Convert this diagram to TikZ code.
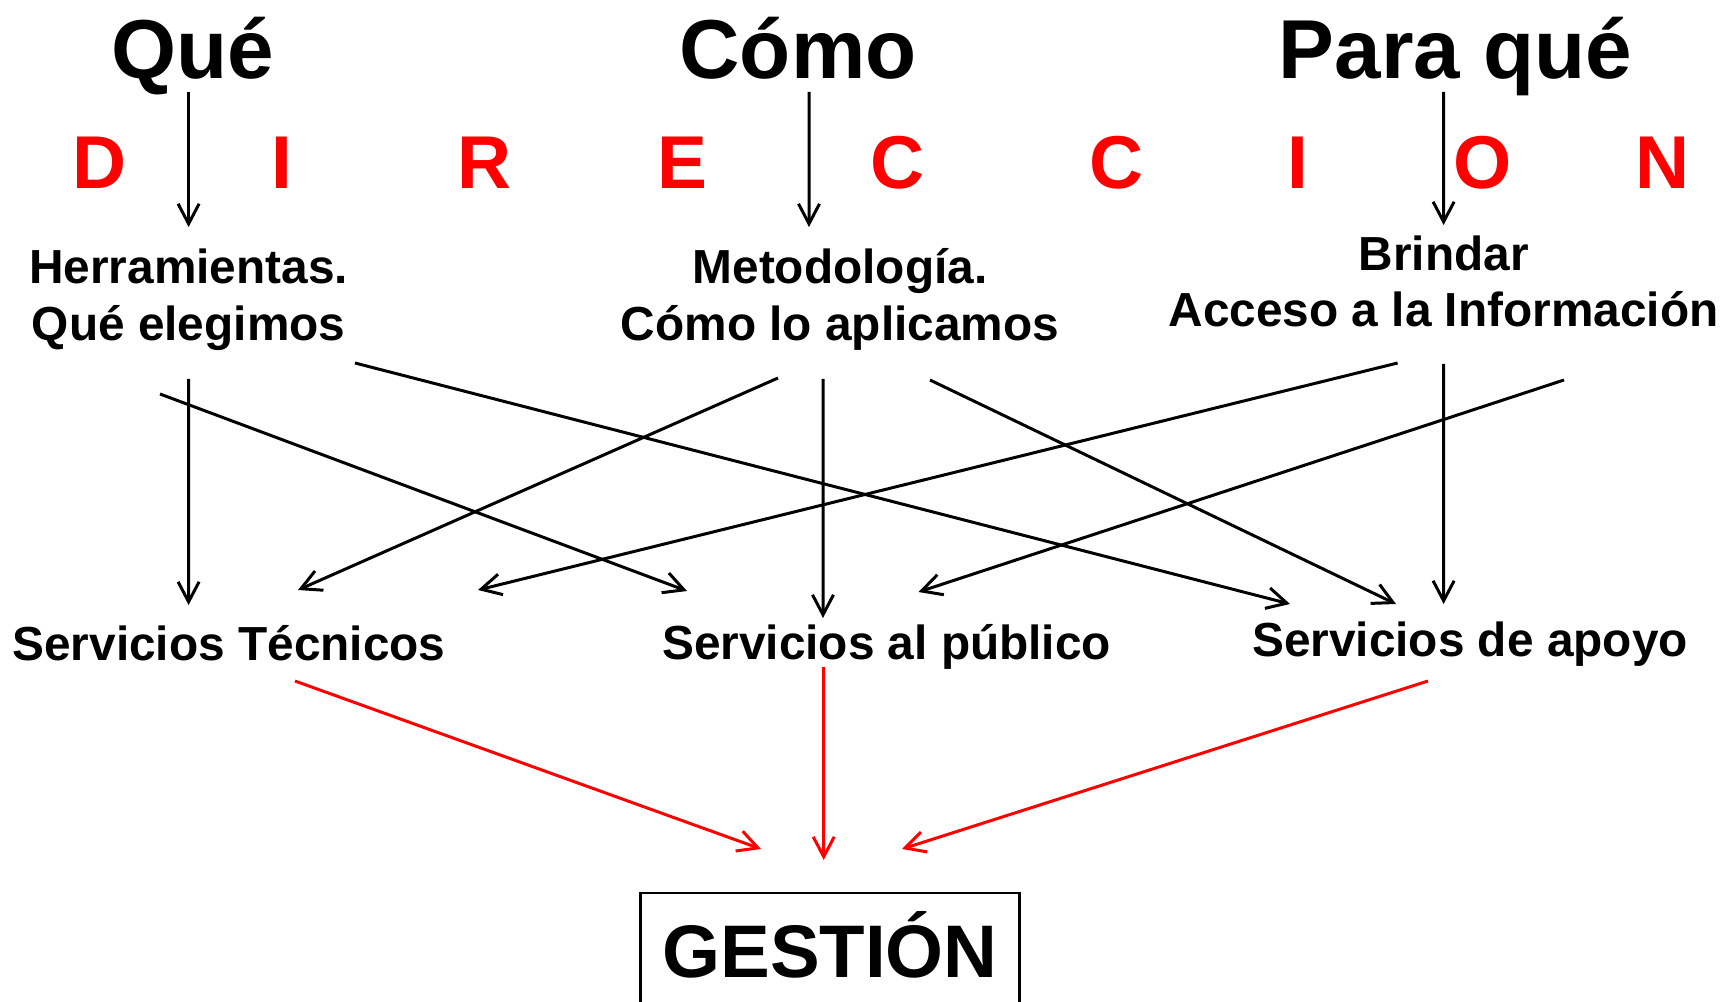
\documentclass[tikz,border=0pt]{standalone}
\usepackage{fontspec}
\setmainfont{Liberation Sans}
\usetikzlibrary{arrows.meta}

\begin{document}
\begin{tikzpicture}[
  font=\bfseries,
  title/.style={inner sep=0pt,anchor=base,font=\bfseries\fontsize{23.8}{28}\selectfont},
  dirletter/.style={inner sep=0pt,anchor=base,text=red,font=\bfseries\fontsize{21.3}{26}\selectfont},
  concept/.style={inner sep=0pt,anchor=base,align=center,font=\bfseries\fontsize{13.6}{16}\selectfont},
  result/.style={draw,line width=0.6pt,anchor=base,minimum width=3.79cm,text height=0.67cm,
                 text depth=0.4cm,inner ysep=0.17cm,font=\bfseries\fontsize{21.2}{25}\selectfont},
  toblk/.style={-{Straight Barb[length=2mm,width=2.1mm]},line width=0.85pt},
  tored/.style={toblk,red}]
  \useasboundingbox (0,0) rectangle (17.29,10.01);

  % Column headings and the spread-out word
  \node[title] (que)     at (1.925,9.22)  {Qué};
  \node[title] (como)    at (7.98,9.22)   {Cómo};
  \node[title] (paraque) at (14.555,9.22) {Para qué};
  \foreach \ltr/\xpos [count=\i] in {D/1.00,I/2.82,R/4.85,E/6.82,C/8.98,C/11.17,I/12.98,O/14.83,N/16.63}
    \node[dirletter] (dir\i) at (\xpos,8.12) {\ltr};

  % base of a two-line node sits on its last line
  \node[concept] (herr)    at (1.886,6.61)  {Herramientas.\\Qué elegimos};
  \node[concept] (metod)   at (8.40,6.61)   {Metodología.\\Cómo lo aplicamos};
  \node[concept] (brindar) at (14.436,6.74) {Brindar\\Acceso a la Información};

  \node[concept] (servtec) at (2.29,3.41)  {Servicios Técnicos};
  \node[concept] (servpub) at (8.866,3.42) {Servicios al público};
  \node[concept] (servapo) at (14.70,3.45) {Servicios de apoyo};

  \node[result] (gestion) at (8.30,0.24) {GESTIÓN};

  % Headings down to their concepts
  \draw[toblk] ([shift={(-0.039,-0.13)}]que.base)     -- ([shift={(0,1.13)}]herr.base);
  \draw[toblk] ([shift={(0.11,-0.13)}]como.base)      -- ([shift={(-0.31,1.13)}]metod.base);
  \draw[toblk] ([shift={(-0.119,-0.13)}]paraque.base) -- ([shift={(0,1.02)}]brindar.base);

  % Every concept feeds every service
  \draw[toblk] ([shift={(0,-0.39)}]herr.base)         -- ([shift={(-0.404,0.55)}]servtec.base);
  \draw[toblk] ([shift={(-0.286,-0.54)}]herr.base)    -- ([shift={(-1.996,0.68)}]servpub.base);
  \draw[toblk] ([shift={(1.664,-0.23)}]herr.base)     -- ([shift={(-1.80,0.52)}]servapo.base);
  \draw[toblk] ([shift={(-0.62,-0.38)}]metod.base)    -- ([shift={(0.69,0.70)}]servtec.base);
  \draw[toblk] ([shift={(-0.17,-0.39)}]metod.base)    -- ([shift={(-0.636,0.41)}]servpub.base);
  \draw[toblk] ([shift={(0.90,-0.40)}]metod.base)     -- ([shift={(-0.74,0.52)}]servapo.base);
  \draw[toblk] ([shift={(-0.46,-0.36)}]brindar.base)  -- ([shift={(2.49,0.70)}]servtec.base);
  \draw[toblk] ([shift={(1.204,-0.53)}]brindar.base)  -- ([shift={(0.319,0.67)}]servpub.base);
  \draw[toblk] ([shift={(0,-0.37)}]brindar.base)      -- ([shift={(-0.264,0.52)}]servapo.base);

  % Services converge on management
  \draw[tored] ([shift={(0.66,-0.21)}]servtec.base)   -- ([shift={(-0.69,1.28)}]gestion.base);
  \draw[tored] ([shift={(-0.629,-0.08)}]servpub.base) -- ([shift={(-0.063,1.17)}]gestion.base);
  \draw[tored] ([shift={(-0.42,-0.25)}]servapo.base)  -- ([shift={(0.72,1.28)}]gestion.base);
\end{tikzpicture}
\end{document}
